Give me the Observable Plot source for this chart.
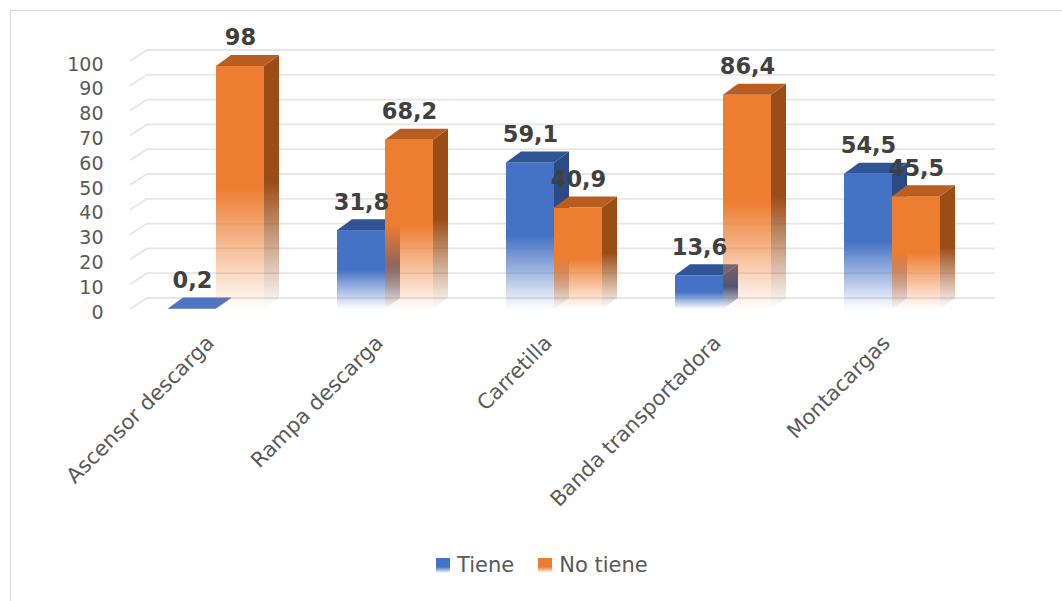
<!DOCTYPE html>
<html>
<head>
<meta charset="utf-8">
<script src="https://cdn.jsdelivr.net/npm/d3@7"></script>
<script src="https://cdn.jsdelivr.net/npm/@observablehq/plot@0.6"></script>
<style>
  html, body { margin: 0; padding: 0; background: #fff; }
  body { width: 1062px; height: 601px; overflow: hidden; position: relative; font-family: "DejaVu Sans", sans-serif; }
  #frame { position: absolute; left: 10px; top: 10px; width: 1100px; height: 700px; border: 1px solid #d9d9d9; box-sizing: border-box; }
  #chart { position: absolute; left: 0; top: 0; }
  #legend { position: absolute; left: 436px; top: 553px; display: flex; align-items: center; font-size: 21px; color: #595959; }
  .sw { width: 14px; height: 15px; display: inline-block; margin-right: 7px; }
  .item { display: flex; align-items: center; margin-right: 24px; }
</style>
</head>
<body>
<div id="frame"></div>
<div id="chart"></div>
<div id="legend"></div>
<script>
// ---- data ----
const categories = ["Ascensor descarga", "Rampa descarga", "Carretilla", "Banda transportadora", "Montacargas"];
const seriesNames = ["Tiene", "No tiene"];
const tiene = [0.2, 31.8, 59.1, 13.6, 54.5];
const noTiene = [98, 68.2, 40.9, 86.4, 45.5];
const yTicks = [0, 10, 20, 30, 40, 50, 60, 70, 80, 90, 100];

// ---- styles ----
const palette = {
  "Tiene":    {front: "#4472C4", top: "#2F5597", side: "#2A4B86", id: "blue"},
  "No tiene": {front: "#ED7D31", top: "#B95E20", side: "#9B4D18", id: "orange"}
};
const DX = 15, DY = 11; // 3D depth offset in pixels

const rows = categories.flatMap((c, i) => [
  {category: c, series: seriesNames[0], value: tiene[i]},
  {category: c, series: seriesNames[1], value: noTiene[i]}
]);
const fmt = v => String(v).replace(".", ",");

function defsMark() {
  const g = d3.create("svg:g");
  const defs = g.append("defs");
  for (const s of seriesNames) {
    const p = palette[s];
    const mk = (id, color) => {
      const lg = defs.append("linearGradient").attr("id", id)
        .attr("x1", 0).attr("y1", 0).attr("x2", 0).attr("y2", 1);
      lg.append("stop").attr("offset", 0).attr("stop-color", color).attr("stop-opacity", 1);
      lg.append("stop").attr("offset", 0.5).attr("stop-color", color).attr("stop-opacity", 1);
      lg.append("stop").attr("offset", 0.97).attr("stop-color", color).attr("stop-opacity", 0.06);
      lg.append("stop").attr("offset", 1).attr("stop-color", color).attr("stop-opacity", 0.02);
    };
    mk("front-" + p.id, p.front);
    mk("side-" + p.id, p.side);
  }
  return g.node();
}

function gridMark(index, scales, values, dims) {
  const g = d3.create("svg:g");
  const y = scales.y;
  const xl = dims.marginLeft + 10;
  const xr = dims.width - dims.marginRight + 7;
  for (const t of yTicks) {
    const yy = y(t);
    g.append("path")
      .attr("d", `M${xl},${yy}L${xl + DX + 2},${yy - DY}L${xr},${yy - DY}`)
      .attr("fill", "none").attr("stroke", "#e6e6e6").attr("stroke-width", 1.8);
  }
  return g.node();
}

function facesMark(series, sign) {
  return function (index, scales, values, dims) {
    const g = d3.create("svg:g");
    const x = scales.x, y = scales.y;
    const bw = x.bandwidth ? x.bandwidth() : 48;
    const p = palette[series];
    const y0 = y(0);
    for (const r of rows.filter(d => d.series === series)) {
      const start = x(r.category) + (sign < 0 ? -bw / 2 : bw / 2);
      const xl = start, xr = start + bw;
      const yt = y(r.value);
      // side face
      g.append("path")
        .attr("d", `M${xr},${yt}L${xr + DX},${yt - DY}L${xr + DX},${y0 - DY}L${xr},${y0}Z`)
        .attr("fill", `url(#side-${p.id})`);
      // top face
      g.append("path")
        .attr("d", `M${xl},${yt}L${xr},${yt}L${xr + DX},${yt - DY}L${xl + DX},${yt - DY}Z`)
        .attr("fill", r.value < 1 ? "#4D74BE" : p.top);
    }
    return g.node();
  };
}

const bwGuess = 48;
const labelStyle = {fontSize: 22.5, fontWeight: "bold", fill: "#404040", lineAnchor: "bottom", dy: -(DY + 10)};
const chart = Plot.plot({
  width: 1062,
  height: 540,
  marginTop: 61,
  marginBottom: 231,
  marginLeft: 120,
  marginRight: 74,
  style: {fontFamily: "DejaVu Sans", background: "transparent", overflow: "visible"},
  x: {domain: categories, paddingInner: 0.717, paddingOuter: 0.419, label: null},
  y: {domain: [0, 100], label: null},
  marks: [
    defsMark,
    gridMark,
    Plot.axisY({ticks: yTicks, tickSize: 0, tickPadding: 17, fontSize: 19, color: "#595959", label: null, dy: 3}),
    Plot.axisX({tickSize: 0, tickPadding: 30, tickRotate: -45, fontSize: 21, color: "#595959", label: null, dx: -6}),
    // Tiene
    Plot.barY(rows.filter(d => d.series === "Tiene"), {x: "category", y: "value", dx: -bwGuess / 2, fill: "url(#front-blue)"}),
    facesMark("Tiene", -1),
    // No tiene
    Plot.barY(rows.filter(d => d.series === "No tiene"), {x: "category", y: "value", dx: bwGuess / 2, fill: "url(#front-orange)"}),
    facesMark("No tiene", 1),
    // labels
    Plot.text(rows.filter(d => d.series === "Tiene"), {x: "category", y: "value", text: d => fmt(d.value), dx: -bwGuess / 2, ...labelStyle}),
    Plot.text(rows.filter(d => d.series === "No tiene"), {x: "category", y: "value", text: d => fmt(d.value), dx: bwGuess / 2, ...labelStyle})
  ]
});
document.getElementById("chart").appendChild(chart);

// legend
const legend = document.getElementById("legend");
for (const s of seriesNames) {
  const p = palette[s];
  const item = document.createElement("div");
  item.className = "item";
  const sw = document.createElement("span");
  sw.className = "sw";
  sw.style.background = `linear-gradient(to bottom, ${p.front} 0%, ${p.front} 60%, rgba(255,255,255,0.9) 100%)`;
  const label = document.createElement("span");
  label.textContent = s;
  item.appendChild(sw);
  item.appendChild(label);
  legend.appendChild(item);
}
</script>
</body>
</html>
